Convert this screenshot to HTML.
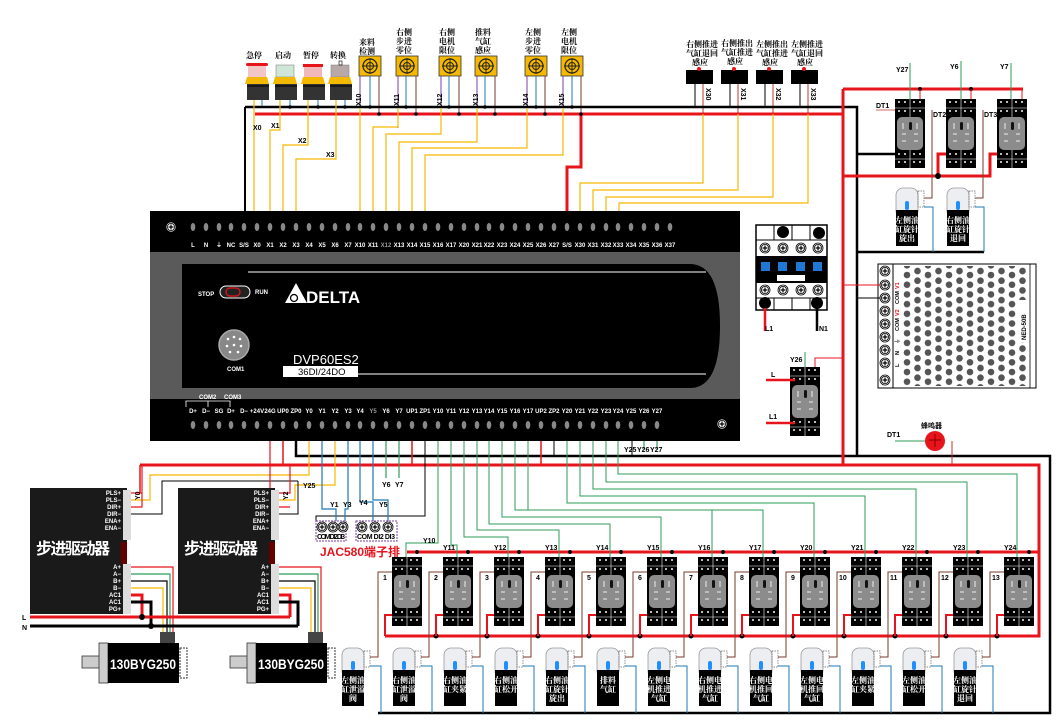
<!DOCTYPE html>
<html><head><meta charset="utf-8"><style>
html,body{margin:0;padding:0;background:#fff;}
svg{display:block;font-family:"Liberation Sans","Noto Sans CJK SC",sans-serif;}
.t{font-size:6px;fill:#fff;font-weight:bold}
.k{font-size:7px;fill:#000;font-weight:bold}
.c{font-size:8px;fill:#000;font-weight:bold;font-family:"Noto Serif CJK SC","Noto Sans CJK SC",sans-serif}
.v{font-size:8px;fill:#fff;font-weight:bold;font-family:"Noto Serif CJK SC","Noto Sans CJK SC",sans-serif}
</style></head><body>
<svg width="1064" height="726" viewBox="0 0 1064 726" xmlns="http://www.w3.org/2000/svg">
<defs>
<g id="rl">
<rect width="30" height="69" fill="#000"/>
<g fill="#bbb"><rect x="3" y="2" width="2" height="2"/><rect x="9" y="2" width="2" height="2"/><rect x="18" y="2" width="2" height="2"/><rect x="24" y="2" width="2" height="2"/><rect x="3" y="11" width="2" height="2"/><rect x="9" y="11" width="2" height="2"/><rect x="18" y="11" width="2" height="2"/><rect x="24" y="11" width="2" height="2"/><rect x="3" y="54" width="2" height="2"/><rect x="9" y="54" width="2" height="2"/><rect x="18" y="54" width="2" height="2"/><rect x="24" y="54" width="2" height="2"/><rect x="3" y="62" width="2" height="2"/><rect x="9" y="62" width="2" height="2"/><rect x="18" y="62" width="2" height="2"/><rect x="24" y="62" width="2" height="2"/></g>
<path d="M15 0V18M0 9H30M15 51V69M0 60H30" stroke="#fff" stroke-width=".6"/>
<rect x="2" y="18" width="26" height="33" rx="5" fill="#8c8c8c"/>
<rect x="14" y="23" width="3" height="8" rx="1.5" fill="#111"/>
<path d="M8 24v6M22 24v6M7 35h4M19 35h4M7 42h4M19 42h4" stroke="#eee" stroke-width="1"/>
</g>
<g id="vl">
<rect x="0" y="0" width="22" height="30" rx="7" fill="#eceef2" stroke="#9a9a9a" stroke-width=".8"/>
<rect x="9" y="13" width="4" height="9" rx="2" fill="#1e8fff"/>
<rect x="0" y="22" width="22" height="36" fill="#000"/>
<rect x="22" y="3" width="6" height="16" fill="none" stroke="#666" stroke-width=".7" stroke-dasharray="1.5 1"/>
</g>
<g id="sw">
<rect x="0" y="0" width="22" height="20" fill="#f5b800" stroke="#333" stroke-width=".8"/>
<circle cx="11" cy="10" r="7" fill="none" stroke="#222" stroke-width="1.2"/>
<circle cx="11" cy="10" r="3.5" fill="none" stroke="#222" stroke-width="1"/>
<path d="M11 2v16M3 10h16" stroke="#222" stroke-width=".9"/>
</g>
<g id="scr"><circle r="5" fill="#fff" stroke="#000" stroke-width=".8"/><circle r="3.6" fill="none" stroke="#000" stroke-width=".8"/><path d="M-2.5 0h5M0 -2.5v5" stroke="#000" stroke-width="1.2"/></g>
<pattern id="dots" x="903" y="271" width="21" height="19.4" patternUnits="userSpaceOnUse">
<circle cx="4" cy="4" r="3.3" fill="#555"/><circle cx="14.5" cy="0" r="3.3" fill="#555"/><circle cx="14.5" cy="19.4" r="3.3" fill="#555"/><circle cx="4" cy="13.7" r="3.3" fill="#555"/><circle cx="14.5" cy="9.7" r="3.3" fill="#555"/>
</pattern>
</defs>

<!-- ===== TOP: buttons ===== -->
<g class="c"><text x="246" y="58">急停</text><text x="275" y="58">启动</text><text x="303" y="58">暂停</text><text x="330" y="58">转换</text></g>
<g>
<rect x="246" y="63" width="22" height="3" rx="1.5" fill="#e8141c"/>
<rect x="248" y="66" width="18" height="11" fill="#f3c6c6"/>
<rect x="276" y="65" width="18" height="12" fill="#cfe5d5" stroke="#777" stroke-width=".5"/>
<rect x="303" y="64" width="20" height="3" fill="#e8141c"/>
<rect x="304" y="67" width="18" height="10" fill="#f0b8b8"/>
<rect x="331" y="65" width="18" height="12" fill="#b9a8a8" stroke="#777" stroke-width=".5"/>
<rect x="339" y="61" width="3" height="4" fill="none" stroke="#000" stroke-width=".6"/>
<path d="M247 77h20l2 7h-24zM275 77h20l2 7h-24zM303 77h20l2 7h-24zM330 77h20l2 7h-24z" fill="#f5b800"/>
<rect x="247" y="84" width="22" height="16" fill="#333"/><rect x="275" y="84" width="22" height="16" fill="#333"/><rect x="303" y="84" width="22" height="16" fill="#333"/><rect x="330" y="84" width="22" height="16" fill="#333"/>
<path d="M247 86h22M275 86h22M303 86h22M330 86h22" stroke="#111" stroke-width="1.5"/>
</g>
<!-- sensors -->
<g class="c">
<text x="359" y="45">来料</text><text x="359" y="54">检测</text>
<text x="396" y="35">右侧</text><text x="396" y="44">步进</text><text x="396" y="53">零位</text>
<text x="439" y="35">右侧</text><text x="439" y="44">电机</text><text x="439" y="53">限位</text>
<text x="475" y="35">推料</text><text x="475" y="44">气缸</text><text x="475" y="53">感应</text>
<text x="525" y="35">左侧</text><text x="525" y="44">步进</text><text x="525" y="53">零位</text>
<text x="561" y="35">左侧</text><text x="561" y="44">电机</text><text x="561" y="53">限位</text>
</g>
<use href="#sw" x="359" y="56"/><use href="#sw" x="396" y="56"/><use href="#sw" x="439" y="56"/><use href="#sw" x="475" y="56"/><use href="#sw" x="525" y="56"/><use href="#sw" x="561" y="56"/>
<g fill="none" stroke-width="1">
<g stroke="#7b3fa0"><path d="M360 76v32M398 76v52M441 76v58M477 76v66M527 76v72M563 76v79"/></g>
<g stroke="#1f78b4"><path d="M370 76v31M406 76v31M449 76v31M485 76v31M536 76v31M572 76v31M262 100v7M290 100v7M318 100v7M345 100v7"/></g>
<g stroke="#7a3b2e"><path d="M379 76v38M416 76v38M459 76v38M495 76v38M545 76v38M581 76v38"/></g>
</g>
<g class="k" font-size="6"><text transform="translate(361,106) rotate(-90)">X10</text><text transform="translate(399,106) rotate(-90)">X11</text><text transform="translate(442,106) rotate(-90)">X12</text><text transform="translate(478,106) rotate(-90)">X13</text><text transform="translate(528,106) rotate(-90)">X14</text><text transform="translate(564,106) rotate(-90)">X15</text></g>
<!-- top right sensors -->
<g class="c" font-size="6.5">
<text x="686" y="47">右侧推进</text><text x="686" y="56">气缸退回</text><text x="692" y="65">感应</text>
<text x="721" y="46">右侧推出</text><text x="721" y="55">气缸推进</text><text x="727" y="64">感应</text>
<text x="756" y="47">左侧推出</text><text x="756" y="56">气缸推进</text><text x="762" y="65">感应</text>
<text x="791" y="47">左侧推进</text><text x="791" y="56">气缸退回</text><text x="797" y="65">感应</text>
</g>
<g fill="#000"><rect x="686" y="70" width="27" height="14"/><rect x="721" y="70" width="27" height="14"/><rect x="756" y="70" width="27" height="14"/><rect x="791" y="70" width="27" height="14"/></g>
<g fill="#e8141c"><circle cx="699" cy="69" r="2"/><circle cx="734" cy="69" r="2"/><circle cx="769" cy="69" r="2"/><circle cx="804" cy="69" r="2"/></g>
<g stroke="#000" stroke-width="1"><path d="M695 84v23M730 84v23M765 84v23M800 84v23"/></g>
<g stroke="#c0392b" stroke-width="1" fill="none"><path d="M703 84v30M738 84v30M773 84v30M808 84v30"/></g>
<g class="k" font-size="6"><text transform="translate(706,88) rotate(90)">X30</text><text transform="translate(741,88) rotate(90)">X31</text><text transform="translate(776,88) rotate(90)">X32</text><text transform="translate(811,88) rotate(90)">X33</text></g>

<!-- buses top -->
<path d="M245 107H857V456" stroke="#000" stroke-width="2.5" fill="none"/>
<path d="M245 107V212" stroke="#000" stroke-width="2" fill="none"/>
<path d="M255 114H843" stroke="#e8141c" stroke-width="3" fill="none"/>
<path d="M581 114V167H567V212" stroke="#e8141c" stroke-width="3" fill="none"/>
<g fill="#000"><circle cx="290" cy="107" r="1.8"/><circle cx="318" cy="107" r="1.8"/><circle cx="345" cy="107" r="1.8"/><circle cx="370" cy="107" r="1.8"/><circle cx="379" cy="114" r="1.8"/><circle cx="406" cy="107" r="1.8"/><circle cx="416" cy="114" r="1.8"/><circle cx="449" cy="107" r="1.8"/><circle cx="459" cy="114" r="1.8"/><circle cx="485" cy="107" r="1.8"/><circle cx="495" cy="114" r="1.8"/><circle cx="536" cy="107" r="1.8"/><circle cx="545" cy="114" r="1.8"/><circle cx="572" cy="107" r="1.8"/><circle cx="581" cy="114" r="1.8"/></g>
<g stroke="#f5b800" stroke-width="1.2" fill="none">
<path d="M254 100V212"/><path d="M280 100V130H270V212"/><path d="M308 100V145H283V212"/><path d="M336 100V159H296V212"/>
<path d="M360 108V212"/><path d="M398 108V127H373V212"/><path d="M441 108V134H386V212"/><path d="M477 108V142H399V212"/><path d="M527 108V148H412V212"/><path d="M563 108V155H425V212"/>
<path d="M703 114V183H580V212"/><path d="M738 114V190H593V212"/><path d="M773 114V197H606V212"/><path d="M808 114V203H619V212"/>
</g>
<g class="k" font-size="6"><text x="253" y="130">X0</text><text x="271" y="128">X1</text><text x="298" y="143">X2</text><text x="326" y="157">X3</text></g>

<!-- ===== PLC ===== -->
<rect x="150" y="211" width="590" height="230" fill="#000"/>
<rect x="150" y="252" width="590" height="147" fill="#5a5a5a"/>
<path d="M182 264H690Q720 264 720 326Q720 388 690 388H182Z" fill="#000"/>
<path d="M248 272H706M333 374H706" stroke="#fff" stroke-width="1"/>
<use href="#scr" x="171" y="227"/>
<use href="#scr" x="722" y="424"/>
<g fill="#888">
<ellipse cx="193" cy="227" rx="2.3" ry="4"/><ellipse cx="206" cy="227" rx="2.3" ry="4"/><ellipse cx="219" cy="227" rx="2.3" ry="4"/><ellipse cx="231" cy="227" rx="2.3" ry="4"/><ellipse cx="244" cy="227" rx="2.3" ry="4"/><ellipse cx="257" cy="227" rx="2.3" ry="4"/><ellipse cx="270" cy="227" rx="2.3" ry="4"/><ellipse cx="283" cy="227" rx="2.3" ry="4"/><ellipse cx="296" cy="227" rx="2.3" ry="4"/><ellipse cx="309" cy="227" rx="2.3" ry="4"/><ellipse cx="322" cy="227" rx="2.3" ry="4"/><ellipse cx="335" cy="227" rx="2.3" ry="4"/><ellipse cx="348" cy="227" rx="2.3" ry="4"/><ellipse cx="360" cy="227" rx="2.3" ry="4"/><ellipse cx="373" cy="227" rx="2.3" ry="4"/><ellipse cx="386" cy="227" rx="2.3" ry="4"/><ellipse cx="399" cy="227" rx="2.3" ry="4"/><ellipse cx="412" cy="227" rx="2.3" ry="4"/><ellipse cx="425" cy="227" rx="2.3" ry="4"/><ellipse cx="438" cy="227" rx="2.3" ry="4"/><ellipse cx="451" cy="227" rx="2.3" ry="4"/><ellipse cx="464" cy="227" rx="2.3" ry="4"/><ellipse cx="477" cy="227" rx="2.3" ry="4"/><ellipse cx="489" cy="227" rx="2.3" ry="4"/><ellipse cx="502" cy="227" rx="2.3" ry="4"/><ellipse cx="515" cy="227" rx="2.3" ry="4"/><ellipse cx="528" cy="227" rx="2.3" ry="4"/><ellipse cx="541" cy="227" rx="2.3" ry="4"/><ellipse cx="554" cy="227" rx="2.3" ry="4"/><ellipse cx="567" cy="227" rx="2.3" ry="4"/><ellipse cx="580" cy="227" rx="2.3" ry="4"/><ellipse cx="593" cy="227" rx="2.3" ry="4"/><ellipse cx="606" cy="227" rx="2.3" ry="4"/><ellipse cx="618" cy="227" rx="2.3" ry="4"/><ellipse cx="631" cy="227" rx="2.3" ry="4"/><ellipse cx="644" cy="227" rx="2.3" ry="4"/><ellipse cx="657" cy="227" rx="2.3" ry="4"/><ellipse cx="670" cy="227" rx="2.3" ry="4"/>
</g>
<g class="t" text-anchor="middle" font-size="5.5">
<text x="193" y="247">L</text><text x="206" y="247">N</text><text x="219" y="247">⏚</text><text x="231" y="247">NC</text><text x="244" y="247">S/S</text><text x="257" y="247">X0</text><text x="270" y="247">X1</text><text x="283" y="247">X2</text><text x="296" y="247">X3</text><text x="309" y="247">X4</text><text x="322" y="247">X5</text><text x="335" y="247">X6</text><text x="348" y="247">X7</text><text x="360" y="247">X10</text><text x="373" y="247">X11</text><text x="386" y="247" fill="#999">X12</text><text x="399" y="247">X13</text><text x="412" y="247">X14</text><text x="425" y="247">X15</text><text x="438" y="247">X16</text><text x="451" y="247">X17</text><text x="464" y="247">X20</text><text x="477" y="247">X21</text><text x="489" y="247">X22</text><text x="502" y="247">X23</text><text x="515" y="247">X24</text><text x="528" y="247">X25</text><text x="541" y="247">X26</text><text x="554" y="247">X27</text><text x="567" y="247">S/S</text><text x="580" y="247">X30</text><text x="593" y="247">X31</text><text x="606" y="247">X32</text><text x="618" y="247">X33</text><text x="631" y="247">X34</text><text x="644" y="247">X35</text><text x="657" y="247">X36</text><text x="670" y="247">X37</text>
</g>
<text x="198" y="296" class="t" font-size="5.5">STOP</text>
<rect x="220" y="286" width="30" height="12" rx="6" fill="#222" stroke="#fff" stroke-width="1"/>
<rect x="226" y="288" width="14" height="8" rx="4" fill="none" stroke="#e8141c" stroke-width="1.2"/>
<text x="255" y="294" class="t" font-size="5.5">RUN</text>
<path d="M285 303L296 283L307 303Z" fill="#fff"/>
<circle cx="294" cy="298" r="3.5" fill="none" stroke="#000" stroke-width="1.3"/>
<text x="306" y="303" fill="#fff" font-size="17" font-weight="bold" font-family="Liberation Sans,sans-serif">DELTA</text>
<circle cx="234" cy="345" r="15" fill="#888" stroke="#aaa" stroke-width="1.5"/>
<g fill="#fff"><circle cx="228" cy="339" r="1.3"/><circle cx="234" cy="337" r="1.3"/><circle cx="240" cy="339" r="1.3"/><circle cx="227" cy="346" r="1.3"/><circle cx="234" cy="345" r="1.3"/><circle cx="241" cy="346" r="1.3"/><circle cx="230" cy="352" r="1.3"/><circle cx="238" cy="352" r="1.3"/></g>
<text x="227" y="371" class="t" font-size="5">COM1</text>
<text x="293" y="364" fill="#fff" font-size="13">DVP60ES2</text>
<rect x="283" y="366" width="75" height="11" fill="#fff"/>
<text x="298" y="375" fill="#000" font-size="9.5">36DI/24DO</text>
<g class="t" font-size="5"><text x="199" y="399">COM2</text><text x="224" y="399">COM3</text></g>
<path d="M186 407V401H230V407M208 401V407" stroke="#fff" stroke-width=".8" fill="none"/>
<g class="t" text-anchor="middle" font-size="5.3">
<text x="193" y="413">D+</text><text x="206" y="413">D−</text><text x="219" y="413">SG</text><text x="231" y="413">D+</text><text x="244" y="413">D−</text><text x="257" y="413">+24V</text><text x="270" y="413">24G</text><text x="283" y="413">UP0</text><text x="296" y="413">ZP0</text><text x="309" y="413">Y0</text><text x="322" y="413">Y1</text><text x="335" y="413">Y2</text><text x="348" y="413">Y3</text><text x="360" y="413">Y4</text><text x="373" y="413" fill="#999">Y5</text><text x="386" y="413">Y6</text><text x="399" y="413">Y7</text><text x="412" y="413">UP1</text><text x="425" y="413">ZP1</text><text x="438" y="413">Y10</text><text x="451" y="413">Y11</text><text x="464" y="413">Y12</text><text x="477" y="413">Y13</text><text x="489" y="413">Y14</text><text x="502" y="413">Y15</text><text x="515" y="413">Y16</text><text x="528" y="413">Y17</text><text x="541" y="413">UP2</text><text x="554" y="413">ZP2</text><text x="567" y="413">Y20</text><text x="580" y="413">Y21</text><text x="593" y="413">Y22</text><text x="606" y="413">Y23</text><text x="618" y="413">Y24</text><text x="631" y="413">Y25</text><text x="644" y="413">Y26</text><text x="657" y="413">Y27</text>
</g>
<g fill="#888">
<ellipse cx="193" cy="425" rx="2.3" ry="4"/><ellipse cx="206" cy="425" rx="2.3" ry="4"/><ellipse cx="219" cy="425" rx="2.3" ry="4"/><ellipse cx="231" cy="425" rx="2.3" ry="4"/><ellipse cx="244" cy="425" rx="2.3" ry="4"/><ellipse cx="257" cy="425" rx="2.3" ry="4"/><ellipse cx="270" cy="425" rx="2.3" ry="4"/><ellipse cx="283" cy="425" rx="2.3" ry="4"/><ellipse cx="296" cy="425" rx="2.3" ry="4"/><ellipse cx="309" cy="425" rx="2.3" ry="4"/><ellipse cx="322" cy="425" rx="2.3" ry="4"/><ellipse cx="335" cy="425" rx="2.3" ry="4"/><ellipse cx="348" cy="425" rx="2.3" ry="4"/><ellipse cx="360" cy="425" rx="2.3" ry="4"/><ellipse cx="373" cy="425" rx="2.3" ry="4"/><ellipse cx="386" cy="425" rx="2.3" ry="4"/><ellipse cx="399" cy="425" rx="2.3" ry="4"/><ellipse cx="412" cy="425" rx="2.3" ry="4"/><ellipse cx="425" cy="425" rx="2.3" ry="4"/><ellipse cx="438" cy="425" rx="2.3" ry="4"/><ellipse cx="451" cy="425" rx="2.3" ry="4"/><ellipse cx="464" cy="425" rx="2.3" ry="4"/><ellipse cx="477" cy="425" rx="2.3" ry="4"/><ellipse cx="489" cy="425" rx="2.3" ry="4"/><ellipse cx="502" cy="425" rx="2.3" ry="4"/><ellipse cx="515" cy="425" rx="2.3" ry="4"/><ellipse cx="528" cy="425" rx="2.3" ry="4"/><ellipse cx="541" cy="425" rx="2.3" ry="4"/><ellipse cx="554" cy="425" rx="2.3" ry="4"/><ellipse cx="567" cy="425" rx="2.3" ry="4"/><ellipse cx="580" cy="425" rx="2.3" ry="4"/><ellipse cx="593" cy="425" rx="2.3" ry="4"/><ellipse cx="606" cy="425" rx="2.3" ry="4"/><ellipse cx="618" cy="425" rx="2.3" ry="4"/><ellipse cx="631" cy="425" rx="2.3" ry="4"/><ellipse cx="644" cy="425" rx="2.3" ry="4"/><ellipse cx="657" cy="425" rx="2.3" ry="4"/>
</g>

<!-- ===== bottom buses ===== -->
<path d="M296 441V456H1050V713H378" stroke="#000" stroke-width="2.5" fill="none"/>
<path d="M554 441V456M632 441V456" stroke="#000" stroke-width="1" fill="none"/>
<path d="M140 465H1039V636H385" stroke="#e8141c" stroke-width="3" fill="none"/>
<path d="M140 465V493M283 441V465M412 441V465M541 441V465" stroke="#e8141c" stroke-width="1.5" fill="none"/>
<path d="M407 552H1039" stroke="#e8141c" stroke-width="3"/>
<g fill="none" stroke-width="1.2">
<path d="M309 441V475H150V500H130" stroke="#f5b800"/>
<path d="M335 441V485H295V500H276" stroke="#f5b800"/>
<path d="M425 441V516H316V522" stroke="#000" stroke-width="1"/>
<path d="M298 481H162V514H130M298 481V514H276" stroke="#000" stroke-width="1"/>
<g stroke="#1f78b4"><path d="M322 441V509H336V522"/><path d="M348 441V509H345V522"/><path d="M360 441V502H373V522"/><path d="M373 441V500H388V522"/></g>
<g stroke="#2e9e5a"><path d="M386 441V478M399 441V478M644 441V450M657 441V450"/></g>
<path d="M270 441V493H276" stroke="#e8141c"/>
</g>
<g class="k" font-size="6"><text x="382" y="487">Y6</text><text x="395" y="487">Y7</text><text x="624" y="452">Y25</text><text x="637" y="452">Y26</text><text x="650" y="452">Y27</text><text x="303" y="488">Y25</text><text x="330" y="507">Y1</text><text x="343" y="507">Y3</text><text x="359" y="505">Y4</text><text x="379" y="507">Y5</text></g>

<!-- JAC580 -->
<rect x="316" y="521" width="30" height="20" fill="#fff" stroke="#7b3fa0" stroke-dasharray="2 1"/>
<rect x="356" y="521" width="41" height="20" fill="#fff" stroke="#7b3fa0" stroke-dasharray="2 1"/>
<use href="#scr" x="322" y="527"/><use href="#scr" x="333" y="527"/><use href="#scr" x="343" y="527"/>
<use href="#scr" x="362" y="527"/><use href="#scr" x="375" y="527"/><use href="#scr" x="388" y="527"/>
<g class="k" font-size="4.5"><text x="317" y="539" textLength="28">COM DI2 DI3</text><text x="357" y="539" textLength="38">COM DI2 DI3</text></g>
<text x="320" y="556" fill="#e8141c" font-size="12" font-weight="bold">JAC580端子排</text>

<!-- ===== stepper drivers ===== -->
<g>
<rect x="30" y="488" width="97" height="126" fill="#1a1a1a"/>
<rect x="178" y="488" width="97" height="126" fill="#1a1a1a"/>
<rect x="123" y="490" width="8" height="50" fill="#ddd"/><rect x="123" y="564" width="8" height="50" fill="#ddd"/>
<rect x="271" y="490" width="8" height="50" fill="#ddd"/><rect x="271" y="564" width="8" height="50" fill="#ddd"/>
<rect x="121" y="542" width="6" height="22" fill="#600"/><rect x="269" y="542" width="6" height="22" fill="#600"/>
<g class="t" font-size="6" text-anchor="end">
<text x="121" y="495">PLS+</text><text x="121" y="502">PLS−</text><text x="121" y="509">DIR+</text><text x="121" y="516">DIR−</text><text x="121" y="523">ENA+</text><text x="121" y="530">ENA−</text>
<text x="121" y="569">A+</text><text x="121" y="576">A−</text><text x="121" y="583">B+</text><text x="121" y="590">B−</text><text x="121" y="597">AC1</text><text x="121" y="604">AC1</text><text x="121" y="611">PG+</text>
<text x="269" y="495">PLS+</text><text x="269" y="502">PLS−</text><text x="269" y="509">DIR+</text><text x="269" y="516">DIR−</text><text x="269" y="523">ENA+</text><text x="269" y="530">ENA−</text>
<text x="269" y="569">A+</text><text x="269" y="576">A−</text><text x="269" y="583">B+</text><text x="269" y="590">B−</text><text x="269" y="597">AC1</text><text x="269" y="604">AC1</text><text x="269" y="611">PG+</text>
</g>
<text x="36" y="554" fill="#fff" font-size="16" font-weight="bold" textLength="74" font-family="Noto Sans CJK SC,sans-serif">步进驱动器</text>
<text x="184" y="554" fill="#fff" font-size="16" font-weight="bold" textLength="74" font-family="Noto Sans CJK SC,sans-serif">步进驱动器</text>
</g>
<g fill="none" stroke-width="1.2">
<path d="M131 493H142" stroke="#e8141c"/><path d="M131 507H142V465" stroke="#e8141c"/>
<path d="M279 493H290V465M279 507H290" stroke="#e8141c"/>
<path d="M131 567H173V632M279 567H321V632" stroke="#e8141c"/>
<path d="M131 574H170V632M279 574H318V632" stroke="#2e9e5a"/>
<path d="M131 581H167V632M279 581H315V632" stroke="#000"/>
<path d="M131 588H163V632M279 588H311V632" stroke="#f5b800"/>
<path d="M131 595H142V617M279 595H290V617" stroke="#e8141c" stroke-width="3"/>
<path d="M131 602H151V626M279 602H298V626" stroke="#000" stroke-width="3"/>
</g>
<path d="M30 617H290" stroke="#e8141c" stroke-width="3"/>
<path d="M30 626H298" stroke="#000" stroke-width="3"/>
<circle cx="142" cy="617" r="3" fill="#000"/><circle cx="151" cy="626" r="3" fill="#000"/>
<g class="k" font-size="8"><text x="22" y="620">L</text><text x="22" y="630">N</text><text x="140" y="500" transform="rotate(-90 140 500)">Y0</text><text x="288" y="500" transform="rotate(-90 288 500)">Y2</text></g>
<g>
<rect x="82" y="656" width="18" height="12" fill="#ccc" stroke="#333" stroke-width=".8"/>
<rect x="99" y="643" width="9" height="40" fill="#ccc" stroke="#333" stroke-width=".8"/>
<rect x="108" y="643" width="71" height="40" fill="#000"/>
<rect x="160" y="632" width="15" height="11" fill="#444"/>
<rect x="180" y="648" width="7" height="30" fill="#fff" stroke="#333" stroke-dasharray="2 1"/>
<text x="110" y="669" fill="#fff" font-size="14" font-weight="bold" textLength="66" lengthAdjust="spacingAndGlyphs">130BYG250</text>
<rect x="230" y="656" width="18" height="12" fill="#ccc" stroke="#333" stroke-width=".8"/>
<rect x="247" y="643" width="9" height="40" fill="#ccc" stroke="#333" stroke-width=".8"/>
<rect x="256" y="643" width="71" height="40" fill="#000"/>
<rect x="308" y="632" width="15" height="11" fill="#444"/>
<rect x="328" y="648" width="7" height="30" fill="#fff" stroke="#333" stroke-dasharray="2 1"/>
<text x="258" y="669" fill="#fff" font-size="14" font-weight="bold" textLength="66" lengthAdjust="spacingAndGlyphs">130BYG250</text>
</g>

<!-- ===== bottom relay row ===== -->
<g fill="none" stroke="#2e9e5a" stroke-width="1">
<path d="M438 441V543H406V557"/><path d="M451 441V545H457V557"/><path d="M464 441V537H508V557"/><path d="M477 441V530H559V557"/><path d="M489 441V524H610V557"/><path d="M502 441V517H661V557"/><path d="M515 441V510H712V557"/><path d="M528 441V510H763V557"/><path d="M567 441V503H814V557"/><path d="M580 441V496H865V557"/><path d="M593 441V489H916V557"/><path d="M606 441V482H967V557"/><path d="M618 441V474H1017V557"/>
</g>
<g class="k" font-size="6.5"><text x="423" y="543">Y10</text><text x="443" y="550">Y11</text><text x="494" y="550">Y12</text><text x="545" y="550">Y13</text><text x="596" y="550">Y14</text><text x="647" y="550">Y15</text><text x="698" y="550">Y16</text><text x="749" y="550">Y17</text><text x="800" y="550">Y20</text><text x="851" y="550">Y21</text><text x="902" y="550">Y22</text><text x="953" y="550">Y23</text><text x="1004" y="550">Y24</text></g>
<g>
<use href="#rl" x="392" y="557"/><use href="#rl" x="443" y="557"/><use href="#rl" x="494" y="557"/><use href="#rl" x="545" y="557"/><use href="#rl" x="596" y="557"/><use href="#rl" x="647" y="557"/><use href="#rl" x="698" y="557"/><use href="#rl" x="749" y="557"/><use href="#rl" x="800" y="557"/><use href="#rl" x="851" y="557"/><use href="#rl" x="902" y="557"/><use href="#rl" x="953" y="557"/><use href="#rl" x="1004" y="557"/>
</g>
<g fill="#000"><circle cx="417" cy="552" r="2"/><circle cx="468" cy="552" r="2"/><circle cx="519" cy="552" r="2"/><circle cx="570" cy="552" r="2"/><circle cx="621" cy="552" r="2"/><circle cx="672" cy="552" r="2"/><circle cx="723" cy="552" r="2"/><circle cx="774" cy="552" r="2"/><circle cx="825" cy="552" r="2"/><circle cx="876" cy="552" r="2"/><circle cx="927" cy="552" r="2"/><circle cx="978" cy="552" r="2"/><circle cx="1029" cy="552" r="2"/>
<circle cx="436" cy="636" r="2.5"/><circle cx="487" cy="636" r="2.5"/><circle cx="538" cy="636" r="2.5"/><circle cx="589" cy="636" r="2.5"/><circle cx="640" cy="636" r="2.5"/><circle cx="691" cy="636" r="2.5"/><circle cx="742" cy="636" r="2.5"/><circle cx="793" cy="636" r="2.5"/><circle cx="844" cy="636" r="2.5"/><circle cx="895" cy="636" r="2.5"/><circle cx="946" cy="636" r="2.5"/><circle cx="997" cy="636" r="2.5"/></g>
<g fill="none" stroke="#e8141c" stroke-width="2">
<path d="M392 615H385V636M443 615H436V636M494 615H487V636M545 615H538V636M596 615H589V636M647 615H640V636M698 615H691V636M749 615H742V636M800 615H793V636M851 615H844V636M902 615H895V636M953 615H946V636M1004 615H997V636"/>
</g>
<g class="k" font-size="7"><text x="383" y="580">1</text><text x="434" y="580">2</text><text x="485" y="580">3</text><text x="536" y="580">4</text><text x="587" y="580">5</text><text x="638" y="580">6</text><text x="689" y="580">7</text><text x="740" y="580">8</text><text x="791" y="580">9</text><text x="839" y="580">10</text><text x="890" y="580">11</text><text x="941" y="580">12</text><text x="992" y="580">13</text></g>
<g fill="none" stroke="#7a3b2e" stroke-width="1">
<path d="M392 572H378V657H370M443 572H429V657H421M494 572H480V657H472M545 572H531V657H523M596 572H582V657H574M647 572H633V657H625M698 572H684V657H676M749 572H735V657H727M800 572H786V657H778M851 572H837V657H829M902 572H888V657H880M953 572H939V657H931M1004 572H990V657H982"/>
</g>
<g fill="none" stroke="#1f78b4" stroke-width="1">
<path d="M370 666H381V713M421 666H432V713M472 666H483V713M523 666H534V713M574 666H585V713M625 666H636V713M676 666H687V713M727 666H738V713M778 666H789V713M829 666H840V713M880 666H891V713M931 666H942V713M982 666H993V713"/>
</g>
<g>
<use href="#vl" x="342" y="648"/><use href="#vl" x="393" y="648"/><use href="#vl" x="444" y="648"/><use href="#vl" x="495" y="648"/><use href="#vl" x="546" y="648"/><use href="#vl" x="597" y="648"/><use href="#vl" x="648" y="648"/><use href="#vl" x="699" y="648"/><use href="#vl" x="750" y="648"/><use href="#vl" x="801" y="648"/><use href="#vl" x="852" y="648"/><use href="#vl" x="903" y="648"/><use href="#vl" x="954" y="648"/>
</g>
<g class="v" font-size="6.3" text-anchor="middle">
<text x="353" y="683">左侧油</text><text x="353" y="692">缸泄溢</text><text x="353" y="701">阀</text>
<text x="404" y="683">右侧油</text><text x="404" y="692">缸泄溢</text><text x="404" y="701">阀</text>
<text x="455" y="683">右侧油</text><text x="455" y="692">缸夹紧</text>
<text x="506" y="683">右侧油</text><text x="506" y="692">缸松开</text>
<text x="557" y="683">右侧油</text><text x="557" y="692">缸旋针</text><text x="557" y="701">旋出</text>
<text x="608" y="683">排料</text><text x="608" y="692">气缸</text>
<text x="659" y="683">左侧电</text><text x="659" y="692">机推进</text><text x="659" y="701">气缸</text>
<text x="710" y="683">右侧电</text><text x="710" y="692">机推进</text><text x="710" y="701">气缸</text>
<text x="761" y="683">右侧电</text><text x="761" y="692">机推回</text><text x="761" y="701">气缸</text>
<text x="812" y="683">左侧电</text><text x="812" y="692">机推回</text><text x="812" y="701">气缸</text>
<text x="863" y="683">左侧油</text><text x="863" y="692">缸夹紧</text>
<text x="914" y="683">左侧油</text><text x="914" y="692">缸松开</text>
<text x="965" y="683">左侧油</text><text x="965" y="692">缸旋针</text><text x="965" y="701">退回</text>
</g>

<!-- ===== right side ===== -->
<path d="M843 89V465" stroke="#e8141c" stroke-width="3"/>
<path d="M843 89H1023M843 176H990V154H997M938 176V154H946" stroke="#e8141c" stroke-width="3" fill="none"/>
<path d="M895 154H857" stroke="#000" stroke-width="2.5"/>
<path d="M857 252H984" stroke="#000" stroke-width="2.5"/>
<circle cx="938" cy="176" r="3" fill="#000"/><circle cx="920" cy="89" r="2" fill="#000"/><circle cx="971" cy="89" r="2" fill="#000"/>
<g stroke="#2e9e5a" stroke-width="1"><path d="M910 63V99M961 61V99M1011 63V99"/></g>
<g stroke="#e8141c" stroke-width="1"><path d="M920 89V99M971 89V99M1022 89V99"/></g>
<use href="#rl" x="895" y="99"/><use href="#rl" x="946" y="99"/><use href="#rl" x="997" y="99"/>
<g class="k" font-size="6"><text x="896" y="72">Y27</text><text x="950" y="69">Y6</text><text x="1000" y="69">Y7</text><text x="876" y="108">DT1</text><text x="933" y="117">DT2</text><text x="984" y="117">DT3</text></g>
<path d="M876 110H895" stroke="#c0392b" stroke-width=".8"/>
<g fill="none" stroke-width="1">
<path d="M932 110V198H924" stroke="#7a3b2e"/><path d="M983 110V198H975" stroke="#7a3b2e"/>
<path d="M924 207H933V252M975 207H984V252" stroke="#1f78b4"/>
</g>
<use href="#vl" x="896" y="188"/><use href="#vl" x="947" y="188"/>
<g class="v" font-size="6.3" text-anchor="middle">
<text x="907" y="223">左侧油</text><text x="907" y="232">缸旋针</text><text x="907" y="241">旋出</text>
<text x="958" y="223">右侧油</text><text x="958" y="232">缸旋针</text><text x="958" y="241">退回</text>
</g>
<!-- contactor -->
<g>
<rect x="756" y="225" width="71" height="85" fill="#fff" stroke="#000" stroke-width="1.5"/>
<path d="M774 225V240M792 225V240M810 225V240M774 298V310M792 298V310M810 298V310M756 240H827M756 298H827" stroke="#000" stroke-width="1"/>
<circle cx="783" cy="232" r="6" fill="#000"/><circle cx="819" cy="233" r="6" fill="#000"/>
<use href="#scr" x="765" y="248"/><use href="#scr" x="783" y="248"/><use href="#scr" x="801" y="248"/><use href="#scr" x="818" y="248"/>
<rect x="756" y="256" width="71" height="27" fill="#000"/>
<g fill="#1f78d4"><rect x="761" y="262" width="9" height="9"/><rect x="778" y="262" width="9" height="9"/><rect x="796" y="262" width="9" height="9"/><rect x="813" y="262" width="9" height="9"/></g>
<rect x="777" y="275" width="28" height="6" fill="#fff"/>
<use href="#scr" x="765" y="290"/><use href="#scr" x="783" y="290"/><use href="#scr" x="801" y="290"/><use href="#scr" x="818" y="290"/>
<circle cx="765" cy="303" r="6" fill="#000"/><circle cx="817" cy="303" r="6" fill="#000"/>
<path d="M765 308V331" stroke="#e8141c" stroke-width="2.5"/><path d="M817 308V331" stroke="#000" stroke-width="2.5"/>
<text x="765" y="331" class="k" font-size="6">L1</text><text x="819" y="331" class="k" font-size="6">N1</text>
</g>
<use href="#rl" x="790" y="367"/>
<path d="M805 352V367" stroke="#2e9e5a"/><text x="790" y="362" class="k" font-size="6">Y26</text>
<path d="M815 367V358H843" stroke="#e8141c" fill="none"/>
<path d="M766 380H795M766 423H795" stroke="#e8141c" stroke-width="2.5"/>
<g class="k" font-size="6"><text x="771" y="377">L</text><text x="769" y="419">L1</text></g>
<!-- power supply -->
<rect x="878" y="264" width="158" height="124" fill="#fff" stroke="#000" stroke-width="1"/>
<rect x="900" y="266" width="128" height="120" fill="url(#dots)"/>
<rect x="878" y="264" width="15" height="124" fill="#fff" stroke="#000" stroke-width="1"/>
<path d="M1030 264V388" stroke="#000" stroke-width=".8"/>
<use href="#scr" x="885" y="271"/><use href="#scr" x="885" y="285"/><use href="#scr" x="885" y="298"/><use href="#scr" x="885" y="311"/><use href="#scr" x="885" y="324"/><use href="#scr" x="885" y="337"/><use href="#scr" x="885" y="350"/><use href="#scr" x="885" y="363"/><use href="#scr" x="885" y="380"/>
<g font-size="5.5" font-weight="bold">
<text transform="translate(899,289) rotate(-90)" fill="#e8141c">V1</text>
<text transform="translate(899,304) rotate(-90)">COM</text>
<text transform="translate(899,316) rotate(-90)" fill="#e8141c">V2</text>
<text transform="translate(899,331) rotate(-90)">COM</text>
<text transform="translate(899,344) rotate(-90)">⏚</text>
<text transform="translate(899,355) rotate(-90)">N</text>
<text transform="translate(899,367) rotate(-90)">L</text>
</g>
<rect x="1019" y="300" width="9" height="42" fill="#fff"/>
<text transform="translate(1026,340) rotate(-90)" font-size="6" font-weight="bold">NED-50B</text>
<path d="M843 285H880" stroke="#e8141c" stroke-width="1"/><path d="M857 298H880" stroke="#000" stroke-width="1"/>
<circle cx="935" cy="441" r="10" fill="#e8141c"/>
<path d="M935 434V447M929 440H941" stroke="#800" stroke-width="1"/>
<text x="921" y="428" class="k" font-size="6">蜂鸣器</text>
<text x="887" y="437" class="k" font-size="6">DT1</text>
<path d="M895 441H925" stroke="#2e9e5a"/>
<path d="M952 441V465" stroke="#c0392b"/>
</svg>
</body></html>
